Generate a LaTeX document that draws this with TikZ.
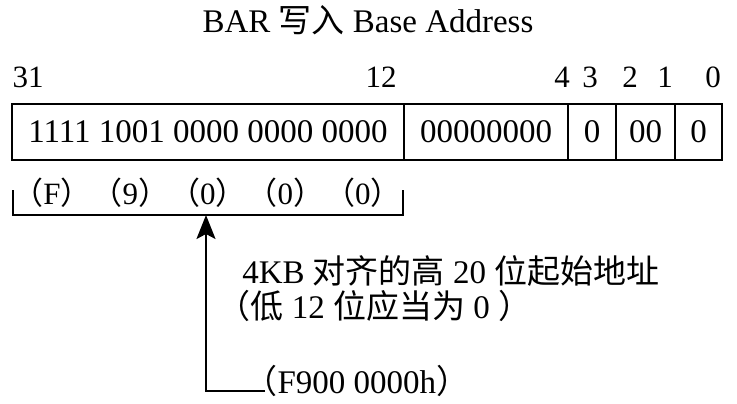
\documentclass[tikz,border=0pt]{standalone}
\usepackage{fontspec}
\setmainfont{Liberation Serif}
\newfontfamily\cjk{Noto Sans CJK SC}
\usetikzlibrary{arrows.meta, positioning}
\newcommand{\lpar}{{\cjk （}}
\newcommand{\rpar}{{\cjk ）}}

\begin{document}
\begin{tikzpicture}[
        x=0.5pt, y=-0.5pt,
        txt/.style={font=\fontsize{15.5}{17.5}\selectfont, inner sep=0pt},
        bigtxt/.style={txt, font=\fontsize{16.5}{17.5}\selectfont},
        cell/.style={bigtxt, draw, line width=1.3pt, outer sep=0pt, minimum height=28pt},
        bracket/.style={line width=1.3pt},
        arrow/.style={-{Stealth[length=12pt, width=9.5pt, inset=2.5pt]}, line width=1pt}
    ]
    \useasboundingbox (0,0) rectangle (737,403);

    % Title
    \node[bigtxt] (title) at (368,20) {BAR {\cjk 写入} Base Address};

    % Bit numbers
    \node[txt] (b31) at (28,77) {31};
    \node[txt] (b12) at (381,77) {12};
    \node[txt] (b4) at (562,77) {4};
    \node[txt] (b3) at (590,77) {3};
    \node[txt] (b2) at (630,77) {2};
    \node[txt] (b1) at (665,77) {1};
    \node[txt] (b0) at (713,77) {0};

    % Register fields
    \node[cell, minimum width=196pt] (hi) at (208,132) {1111 1001 0000 0000 0000};
    \node[cell, minimum width=82pt, right=0pt of hi] (mid) {00000000};
    \node[cell, minimum width=24pt, right=0pt of mid] (pf) {0};
    \node[cell, minimum width=29.5pt, right=0pt of pf] (typ) {00};
    \node[cell, minimum width=23.5pt, right=0pt of typ] (mem) {0};

    % Hex digits under the upper 20 bits
    \node[txt] (hex) at (207,193) {\lpar F\rpar\lpar 9\rpar\lpar 0\rpar\lpar 0\rpar\lpar 0\rpar};
    \draw[bracket] (13,190) -- (13,215) -- (403,215) -- (403,190);
    \coordinate (brk) at (206,215);

    % Notes
    \node[bigtxt, anchor=base west, align=left] (note) at (242,318) {4KB {\cjk 对齐的高} 20 {\cjk 位起始地址}\\\hspace*{-12.4pt}\lpar{\cjk 低} 12 {\cjk 位应当为} 0 \rpar};
    \node[bigtxt, anchor=base west] (addr) at (244.2,393) {\lpar F900 0000h\rpar};

    % Pointer
    \draw[arrow] ([xshift=10.4pt, yshift=1pt]addr.base west) -| (brk);
\end{tikzpicture}
\end{document}
